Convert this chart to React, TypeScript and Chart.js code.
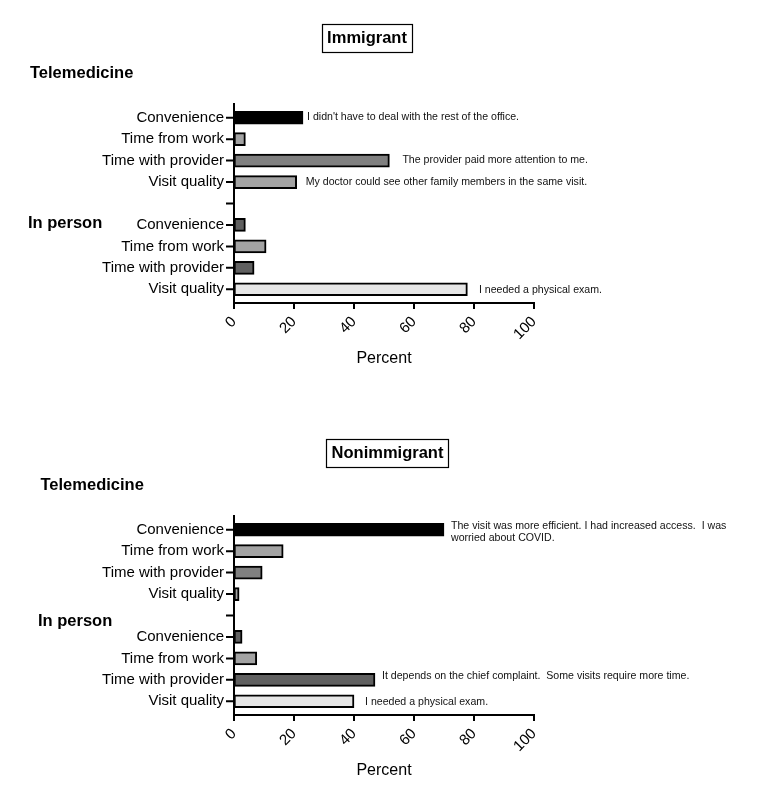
import React, { useEffect, useRef } from 'react';
import { Chart, registerables } from 'chart.js';

Chart.register(...registerables);

// ---------------- data ----------------
const categories = [
  'Convenience',
  'Time from work',
  'Time with provider',
  'Visit quality',
  '',
  'Convenience',
  'Time from work',
  'Time with provider',
  'Visit quality',
];
const immigrantValues: (number | null)[] = [23, 3.8, 51.8, 20.9, null, 3.8, 10.7, 6.7, 77.8];
const nonimmigrantValues: (number | null)[] = [70, 16.4, 9.4, 1.7, null, 2.7, 7.6, 47, 40];
const xTicks = [0, 20, 40, 60, 80, 100];

const immigrantNotes = [
  { row: 0, lines: ["I didn't have to deal with the rest of the office."] },
  { row: 2, lines: ['The provider paid more attention to me.'] },
  { row: 3, lines: ['My doctor could see other family members in the same visit.'] },
  { row: 8, lines: ['I needed a physical exam.'] },
];
const nonimmigrantNotes = [
  { row: 0, lines: ['The visit was more efficient. I had increased access.  I was', 'worried about COVID.'] },
  { row: 7, lines: ['It depends on the chief complaint.  Some visits require more time.'] },
  { row: 8, lines: ['I needed a physical exam.'] },
];

// ---------------- styles ----------------
const FONT = "'Liberation Sans', Arial, Helvetica, sans-serif";
const barColors = [
  '#000000', '#a3a3a3', '#808080', '#a3a3a3', 'rgba(0,0,0,0)',
  '#606060', '#a3a3a3', '#606060', '#e6e6e6',
];

type Layout = {
  title: string;
  box: [number, number, number, number];
  titleX: number;
  titleBase: number;
  teleX: number;
  teleBase: number;
  ipX: number;
  ipBase: number;
  noteGaps: number[];
  noteDy: number[];
};

const topLayout: Layout = {
  title: 'Immigrant',
  box: [322.5, 24.5, 90, 28],
  titleX: 367,
  titleBase: 43,
  teleX: 30,
  teleBase: 78,
  ipX: 28,
  ipBase: 228,
  noteGaps: [4, 13, 9, 11.5],
  noteDy: [-1, -1, 0, 0.5],
};
const bottomLayout: Layout = {
  title: 'Nonimmigrant',
  box: [326.5, 27.5, 122, 28],
  titleX: 387.5,
  titleBase: 46,
  teleX: 40.5,
  teleBase: 77.5,
  ipX: 38,
  ipBase: 214,
  noteGaps: [7, 7, 11],
  noteDy: [-3.5, -3.5, 1],
};

type Note = { row: number; lines: string[] };

function Panel(props: {
  top: number;
  height: number;
  values: (number | null)[];
  notes: Note[];
  layout: Layout;
}) {
  const { top, height, values, notes, layout } = props;
  const ref = useRef<HTMLCanvasElement>(null);

  useEffect(() => {
    if (!ref.current) return;
    const overlay = {
      id: 'overlay',
      afterDraw(chart: any) {
        const ctx = chart.ctx as CanvasRenderingContext2D;
        const xs = chart.scales.x;
        const ys = chart.scales.y;
        const area = chart.chartArea;
        const x0 = xs.getPixelForValue(0);
        const x100 = xs.getPixelForValue(100);
        const axisY = area.bottom + 3;
        ctx.save();
        ctx.strokeStyle = '#000';
        ctx.lineWidth = 2;
        ctx.beginPath();
        ctx.moveTo(x0, area.top - 4);
        ctx.lineTo(x0, axisY + 1);
        ctx.moveTo(x0 - 1, axisY);
        ctx.lineTo(x100 + 1, axisY);
        xTicks.forEach((v) => {
          const px = xs.getPixelForValue(v);
          ctx.moveTo(px, axisY);
          ctx.lineTo(px, axisY + 6);
        });
        categories.forEach((_, i) => {
          const py = ys.getPixelForTick(i);
          ctx.moveTo(x0 - 8, py);
          ctx.lineTo(x0, py);
        });
        ctx.stroke();

        // axis title
        ctx.fillStyle = '#000';
        ctx.font = `16px ${FONT}`;
        ctx.textAlign = 'center';
        ctx.textBaseline = 'middle';
        ctx.fillText('Percent', (x0 + x100) / 2, area.bottom + 59);

        // header box
        ctx.lineWidth = 1.2;
        const [bx, by, bw, bh] = layout.box;
        ctx.strokeRect(bx, by, bw, bh);
        ctx.font = `bold 16.5px ${FONT}`;
        ctx.textBaseline = 'alphabetic';
        ctx.fillText(layout.title, layout.titleX, layout.titleBase);
        ctx.textAlign = 'left';
        ctx.fillText('Telemedicine', layout.teleX, layout.teleBase);
        ctx.fillText('In person', layout.ipX, layout.ipBase);

        // notes
        ctx.font = `10.6px ${FONT}`;
        ctx.textBaseline = 'middle';
        ctx.fillStyle = '#111';
        notes.forEach((n, k) => {
          const v = values[n.row] ?? 0;
          const px = xs.getPixelForValue(v) + (layout.noteGaps[k] ?? 8);
          const py = ys.getPixelForTick(n.row) + (layout.noteDy[k] ?? 0);
          n.lines.forEach((line, li) => {
            ctx.fillText(line, px, py + li * 12.3);
          });
        });
        ctx.restore();
      },
    };

    const chart = new Chart(ref.current, {
      type: 'bar',
      data: {
        labels: categories,
        datasets: [
          {
            data: values as any,
            backgroundColor: barColors,
            borderColor: '#000',
            borderWidth: 2,
            borderSkipped: false,
            barThickness: 13,
          },
        ],
      },
      options: {
        responsive: false,
        animation: false,
        devicePixelRatio: 1,
        indexAxis: 'y',
        layout: { padding: { top: 107, left: 0, right: 238, bottom: 0 } },
        plugins: { legend: { display: false }, tooltip: { enabled: false } },
        scales: {
          x: {
            type: 'linear',
            position: 'bottom',
            min: 0,
            max: 100,
            ticks: {
              stepSize: 20,
              minRotation: 45,
              maxRotation: 45,
              padding: 13,
              color: '#000',
              font: { family: FONT, size: 15 },
            },
            grid: { display: false, drawTicks: false, tickLength: 0 },
            border: { display: false },
            afterFit: (s: any) => {
              s.height = height - 300;
            },
          },
          y: {
            type: 'category',
            labels: categories,
            offset: true,
            ticks: {
              autoSkip: false,
              padding: 10,
              color: '#000',
              font: { family: FONT, size: 15 },
            },
            grid: { display: false, drawTicks: false, tickLength: 0 },
            border: { display: false },
            afterFit: (s: any) => {
              s.width = 234;
            },
          },
        },
      } as any,
      plugins: [overlay],
    });
    return () => chart.destroy();
  }, [height, values, notes, layout]);

  return (
    <canvas
      ref={ref}
      width={772}
      height={height}
      style={{ position: 'absolute', left: 0, top, display: 'block' }}
    />
  );
}

export default function App() {
  return (
    <div style={{ position: 'absolute', left: 0, top: 0, width: 772, height: 809, background: '#fff' }}>
      <Panel top={0} height={411} values={immigrantValues} notes={immigrantNotes} layout={topLayout} />
      <Panel top={412} height={397} values={nonimmigrantValues} notes={nonimmigrantNotes} layout={bottomLayout} />
    </div>
  );
}
